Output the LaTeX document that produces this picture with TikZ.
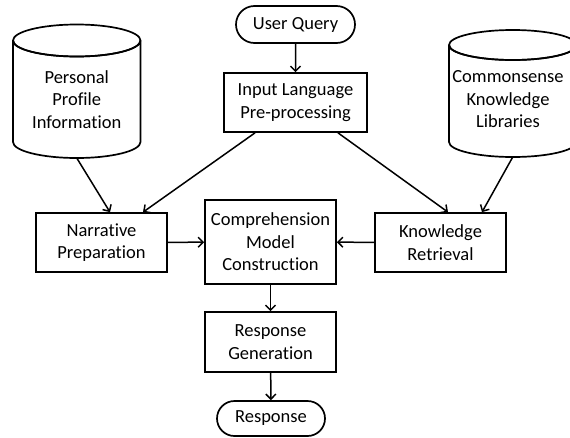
\documentclass[tikz,border=0pt]{standalone}
\usepackage{fontspec}
\setmainfont{Carlito}[RawFeature={-liga,-clig}]
\usetikzlibrary{arrows.meta,shapes.misc}
\begin{document}
\begin{tikzpicture}[x=1pt,y=-1pt,
  every node/.style={font=\fontsize{18.5}{22.5}\selectfont, align=center, inner sep=0pt},
  box/.style={draw, line width=1.7pt, rectangle, minimum width=131pt, minimum height=59pt},
  pill/.style={draw, line width=1.7pt, rounded rectangle, minimum height=37pt},
  cyl/.style={draw, line width=1.7pt},
  arr/.style={line width=1.5pt, -{Straight Barb[length=5pt,width=10pt,line width=1.5pt]}}]
\useasboundingbox (0,0) rectangle (570,437);
% cylinders
\draw[cyl] (13,40.5) -- (13,142) arc[start angle=180,end angle=0,x radius=63.75,y radius=16] -- (140.5,40.5)
  arc[start angle=0,end angle=-360,x radius=63.75,y radius=16];
\draw[cyl] (13,40.5) arc[start angle=180,end angle=0,x radius=63.75,y radius=16];
\node (pp) at (76.75,99.5) {Personal\\Profile\\Information};
\coordinate (ppb) at (76.75,158);
\draw[cyl] (449,45) -- (449,142) arc[start angle=180,end angle=0,x radius=63.75,y radius=15] -- (576.5,45)
  arc[start angle=0,end angle=-360,x radius=63.75,y radius=15];
\draw[cyl] (449,45) arc[start angle=180,end angle=0,x radius=63.75,y radius=15];
\node (ck) at (508,99.5) {Commonsense\\Knowledge\\Libraries};
\coordinate (ckb) at (512.75,157);
% nodes
\node[pill, minimum width=119pt] (uq) at (295.5,24.5) {User Query};
\node[box, minimum width=143pt] (ilp) at (295.5,102.5) {Input Language\\Pre-processing};
\node[box] (np) at (101.5,242.5) {Narrative\\Preparation};
\node[box, minimum height=84pt] (cmc) at (270.5,242) {Comprehension\\Model\\Construction};
\node[box] (kr) at (440.5,242.5) {Knowledge\\Retrieval};
\node[box, minimum height=60pt] (rg) at (270.5,342) {Response\\Generation};
\node[pill, minimum width=108pt, minimum height=35pt] (rs) at (271,418.5) {Response};
% arrows
\draw[arr] (uq) -- (ilp);
\draw[arr] ([xshift=-40.5pt]ilp.south) -- ([xshift=41.5pt]np.north);
\draw[arr] ([xshift=42.5pt]ilp.south) -- ([xshift=7.5pt]kr.north);
\draw[arr] (ppb) -- ([xshift=8.5pt]np.north);
\draw[arr] (ckb) -- ([xshift=41.5pt]kr.north);
\draw[arr] (np) -- (cmc);
\draw[arr] (kr) -- (cmc);
\draw[arr] (cmc) -- (rg);
\draw[arr] (rg) -- (rs);
\end{tikzpicture}
\end{document}
